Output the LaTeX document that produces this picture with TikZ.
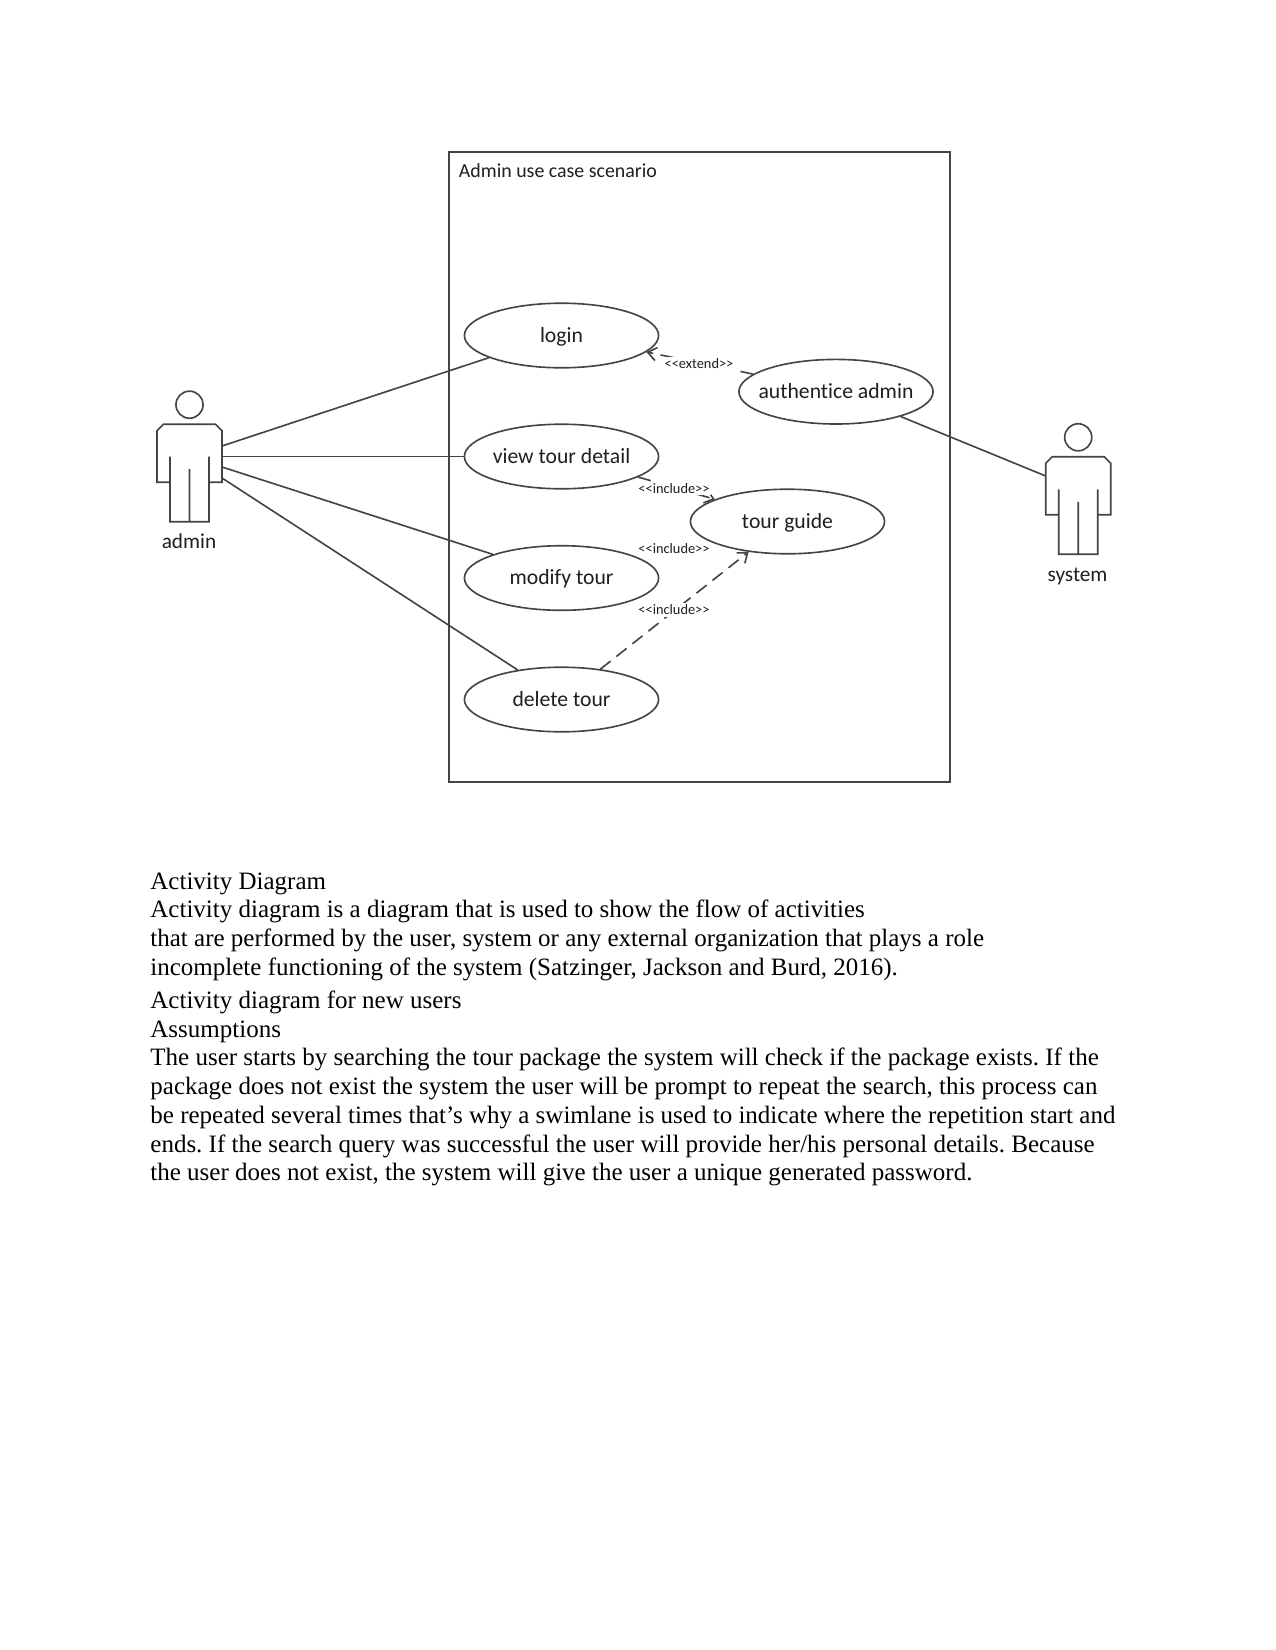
\documentclass[tikz,border=0pt]{standalone}
\usepackage{fontspec}
\setmainfont{Liberation Serif}
\newfontfamily\umlfont[Ligatures=NoCommon]{Carlito}
\usetikzlibrary{shapes.geometric,arrows.meta}
\definecolor{umlline}{HTML}{444444}
\definecolor{umltext}{HTML}{1E1E24}
\tikzset{
  umlstroke/.style={draw=umlline,line width=0.78bp},
  usecase/.style={umlstroke,shape=ellipse,fill=white,inner sep=0pt,minimum width=93.2bp,minimum height=31bp,font=\umlfont\fontsize{10.4bp}{11bp}\selectfont,text=umltext},
  actorlabel/.style={inner sep=0pt,anchor=base,font=\umlfont\fontsize{10.2bp}{11bp}\selectfont,text=umltext},
  titlelabel/.style={inner sep=0pt,anchor=base west,font=\umlfont\fontsize{9.55bp}{11bp}\selectfont,text=umltext},
  stereotype/.style={fill=white,inner sep=0.8bp,font=\umlfont\fontsize{6.9bp}{7bp}\selectfont,text=umltext},
  assoc/.style={umlstroke},
  depend/.style={umlstroke,dash pattern=on 6.2bp off 3.6bp,-{Straight Barb[length=4.2bp,width=6.4bp,line width=0.78bp]}},
  bodyline/.style={inner sep=0pt,anchor=base west,font=\fontsize{12bp}{14bp}\selectfont,text=black},
}
% Use case caption: fixed baseline below the ellipse centre, no effect on its size
\newcommand{\uctext}[1]{\makebox[0pt]{\raisebox{-3.3bp}[0pt][0pt]{#1}}}
% Stick figure drawn around its head centre; #1 name, #2 x, #3 y
\newcommand{\umlactor}[3]{%
  \begin{scope}[shift={(#2,#3)}]
    \node[umlstroke,shape=circle,minimum size=13bp,inner sep=0pt] (#1) at (0,0) {};
    \draw[umlstroke,line join=miter]
      (-19.5,77.5) -- (-32.5,77.5) -- (-32.5,26) -- (-26,19.5) -- (26,19.5) -- (32.5,26) -- (32.5,77.5) -- (19.5,77.5)
      (-19.5,52) -- (-19.5,117) -- (19.5,117) -- (19.5,52)
      (0,64.5) -- (0,117);
  \end{scope}}
\begin{document}
\frenchspacing
\begin{tikzpicture}[x=0.48bp,y=-0.48bp]
  \useasboundingbox (0,0) rectangle (1275,1650);
  \fill[white] (0,0) rectangle (1275,1650);

  % system boundary
  \node[umlstroke,line width=1bp,anchor=north west,inner sep=0pt,minimum width=240.5bp,minimum height=302.6bp] (boundary) at (447.5,150.5) {};
  \node[titlelabel] (boundarytitle) at (458.5,177) {Admin use case scenario};

  % use cases
  \node[usecase] (login) at (561.5,335.5) {\uctext{login}};
  \node[usecase] (view) at (561.5,456.5) {\uctext{view tour detail}};
  \node[usecase] (modify) at (561.5,578) {\uctext{modify tour}};
  \node[usecase] (delete) at (561.5,699.5) {\uctext{delete tour}};
  \node[usecase] (auth) at (836,391.7) {\uctext{authentice admin}};
  \node[usecase] (guide) at (787.5,521.5) {\uctext{tour guide}};

  % actors
  \umlactor{admin}{189.5}{404.7}
  \umlactor{system}{1078.2}{437.3}
  \node[actorlabel] (adminlabel) at (189,548.5) {admin};
  \node[actorlabel] (systemlabel) at (1077.5,581) {system};

  % attachment points on the actors' bodies
  \coordinate (adminA) at (222,446);
  \coordinate (adminB) at (222,456.5);
  \coordinate (adminC) at (222,467);
  \coordinate (adminD) at (222,478);
  \coordinate (systemA) at (1045.7,476);

  % associations
  \draw[assoc] (adminA) -- (login.197.6);
  \draw[assoc] (adminB) -- (view.west);
  \draw[assoc] (adminC) -- (modify.161.3);
  \draw[assoc] (adminD) -- (delete.146.8);
  \draw[assoc] (auth.-21.2) -- (systemA);

  % dependencies, with their stereotypes laid over the dashes
  \draw[depend] (auth.168) -- (login.-11.1);
  \draw[depend] (view.-15.3) -- (guide.163.8);
  \draw[depend] (delete.38.3) -- (guide.218.8);
  \node[stereotype] (extendlabel) at (699,364) {<{}<extend>{}>};
  \node[stereotype] (includeA) at (674,488.3) {<{}<include>{}>};
  \node[stereotype] (includeB) at (674,549) {<{}<include>{}>};
  \node[stereotype] (includeC) at (674,610) {<{}<include>{}>};

  % running text below the diagram
  \node[bodyline] (t01) at (150,889.3) {Activity Diagram};
  \node[bodyline] (t02) at (150,917.3) {Activity diagram is a diagram that is used to show the flow of activities};
  \node[bodyline] (t03) at (150,946.3) {that are performed by the user, system or any external organization that plays a role};
  \node[bodyline] (t04) at (150,975) {incomplete functioning of the system (Satzinger, Jackson and Burd, 2016).};
  \node[bodyline] (t05) at (150,1008.3) {Activity diagram for new users};
  \node[bodyline] (t06) at (150,1037.3) {Assumptions};
  \node[bodyline] (t07) at (150,1065.7) {The user starts by searching the tour package the system will check if the package exists. If the};
  \node[bodyline] (t08) at (150,1094.5) {package does not exist the system the user will be prompt to repeat the search, this process can};
  \node[bodyline] (t09) at (150,1123.5) {be repeated several times that’s why a swimlane is used to indicate where the repetition start and};
  \node[bodyline] (t10) at (150,1152.7) {ends. If the search query was successful the user will provide her/his personal details. Because};
  \node[bodyline] (t11) at (150,1180) {the user does not exist, the system will give the user a unique generated password.};
\end{tikzpicture}
\end{document}
